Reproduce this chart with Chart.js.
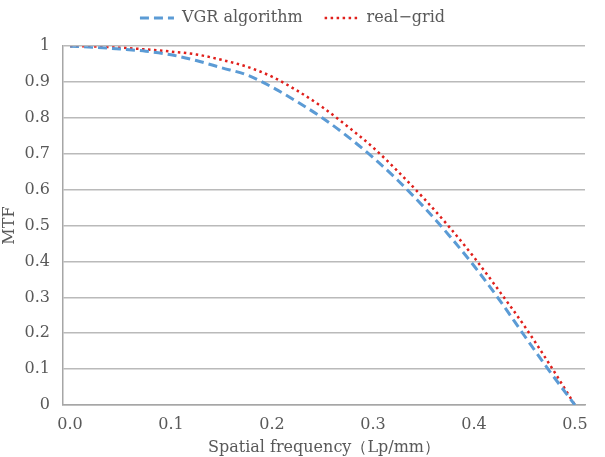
<!DOCTYPE html>
<html>
<head>
<meta charset="utf-8">
<script src="https://cdn.jsdelivr.net/npm/chart.js@4"></script>
<style>
  html, body { margin: 0; padding: 0; background: #fff; }
  #wrap { width: 605px; height: 457px; }
</style>
</head>
<body>
<div id="wrap"><canvas id="grafica"></canvas></div>
<script>
// datos
const frecuencias = [0, 0.025, 0.05, 0.075, 0.1, 0.125, 0.15, 0.175, 0.2, 0.225, 0.25,
                     0.275, 0.3, 0.325, 0.35, 0.375, 0.4, 0.425, 0.45, 0.475, 0.5];
const mtfVGR = [1.000, 0.997, 0.992, 0.986, 0.976, 0.960, 0.940, 0.920, 0.886, 0.845, 0.800,
                0.748, 0.690, 0.625, 0.553, 0.474, 0.388, 0.294, 0.193, 0.094, 0.000];
const mtfReal = [1.000, 0.999, 0.996, 0.991, 0.985, 0.977, 0.962, 0.943, 0.915, 0.876, 0.830,
                 0.776, 0.718, 0.650, 0.577, 0.498, 0.412, 0.318, 0.220, 0.113, 0.000];
const ticksX = [0, 0.1, 0.2, 0.3, 0.4, 0.5];
const nombres = ["VGR algorithm", "real\u2212grid"];

const fuente = "'DejaVu Serif', 'Liberation Serif', serif";
const gris = "#595959";

new Chart(document.getElementById("grafica").getContext("2d"), {
    type: "line",
    data: {
        datasets: [
            {
                label: nombres[0],
                data: frecuencias.map((f, i) => ({ x: f, y: mtfVGR[i] })),
                borderColor: "#5b9bd5",
                borderWidth: 3,
                borderDash: [9, 5],
                pointRadius: 0,
                cubicInterpolationMode: "monotone",
            },
            {
                label: nombres[1],
                data: frecuencias.map((f, i) => ({ x: f, y: mtfReal[i] })),
                borderColor: "#e0201c",
                borderWidth: 2.5,
                borderDash: [2.5, 3.5],
                pointRadius: 0,
                cubicInterpolationMode: "monotone",
            },
        ],
    },
    options: {
        responsive: true,
        maintainAspectRatio: false,
        animation: false,
        layout: { padding: { top: -12, right: 20, left: 0, bottom: 0 } },
        plugins: {
            tooltip: { enabled: false },
            // título vacío: solo deja espacio entre la leyenda y la gráfica
            title: {
                display: true,
                text: "",
                weight: 500,
                padding: { top: 0, bottom: 9 },
                font: { size: 1 },
            },
            legend: {
                position: "top",
                labels: {
                    usePointStyle: true,
                    pointStyle: "line",
                    pointStyleWidth: 34,
                    padding: 22,
                    color: gris,
                    font: { family: fuente, size: 16 },
                    // la muestra de la leyenda usa el mismo trazo que la línea
                    generateLabels: (chart) =>
                        Chart.defaults.plugins.legend.labels.generateLabels(chart).map((item) => {
                            const ds = chart.data.datasets[item.datasetIndex];
                            item.lineDash = ds.borderDash;
                            item.lineWidth = ds.borderWidth;
                            item.strokeStyle = ds.borderColor;
                            return item;
                        }),
                },
            },
        },
        scales: {
            x: {
                type: "linear",
                min: -0.007,
                max: 0.51,
                afterBuildTicks: (eje) => { eje.ticks = ticksX.map(v => ({ value: v })); },
                afterFit: (eje) => { eje.height = 52; },
                grid: { display: false },
                border: { color: "#a6a6a6", width: 1.5 },
                ticks: {
                    color: gris,
                    padding: 2,
                    maxRotation: 0,
                    font: { family: fuente, size: 16 },
                    callback: (v) => Number(v).toFixed(1),
                },
                title: {
                    display: true,
                    text: "Spatial frequency\uff08Lp/mm\uff09",
                    color: gris,
                    padding: { top: 0, bottom: 0 },
                    font: { family: fuente, size: 16 },
                },
            },
            y: {
                min: 0,
                max: 1,
                afterFit: (eje) => { eje.width = 63; },
                grid: { color: "#bababa", lineWidth: 1.5, drawTicks: false },
                border: { color: "#a6a6a6", width: 1.5 },
                ticks: {
                    stepSize: 0.1,
                    color: gris,
                    padding: 13,
                    font: { family: fuente, size: 16 },
                    callback: (v) => String(Math.round(v * 10) / 10),
                },
                title: {
                    display: true,
                    text: "MTF",
                    color: gris,
                    padding: { top: 0, bottom: 0 },
                    font: { family: fuente, size: 16 },
                },
            },
        },
    },
});
</script>
</body>
</html>
